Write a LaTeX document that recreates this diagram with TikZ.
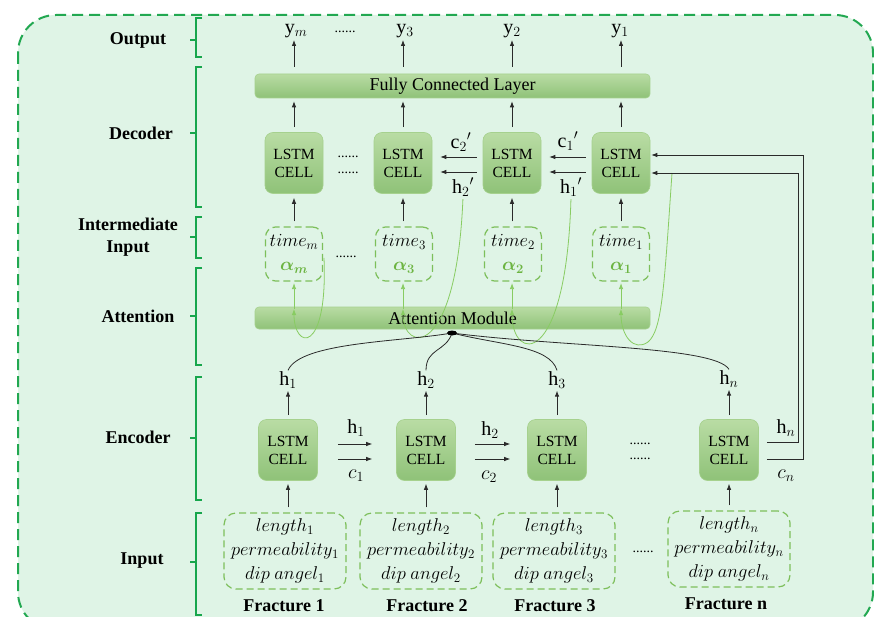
\RequirePackage{fix-cm}
\documentclass[tikz,border=0pt]{standalone}
\usepackage{fontspec}
\setmainfont{Liberation Serif}
\usetikzlibrary{arrows.meta}
\definecolor{bgc}{HTML}{DFF4E6}
\definecolor{bordc}{HTML}{22A851}
\definecolor{brkc}{HTML}{17A64C}
\definecolor{cellt}{HTML}{B9DCA4}
\definecolor{cellbot}{HTML}{8FC278}
\definecolor{cellb}{HTML}{A6D18E}
\definecolor{dboxc}{HTML}{7DBF5B}
\definecolor{alphac}{HTML}{6CB441}
\definecolor{gline}{HTML}{88CC62}
\definecolor{arrc}{HTML}{2A2A2A}
\begin{document}
\begin{tikzpicture}[x=1pt,y=-1pt,
 cell/.style={draw=cellb, line width=0.6pt, rounded corners=8pt, top color=cellt, bottom color=cellbot, minimum width=58pt, minimum height=61pt, inner sep=0pt, align=center, font=\fontsize{15.5}{18}\selectfont},
 bar/.style={draw=cellb, line width=0.6pt, rounded corners=4pt, top color=cellt, bottom color=cellbot, inner sep=0pt, font=\fontsize{18}{20}\selectfont},
 tbox/.style={draw=dboxc, line width=1.2pt, dash pattern=on 7pt off 4pt, rounded corners=10pt, minimum width=57pt, minimum height=54pt, inner sep=0pt, align=center, font=\fontsize{18.5}{22}\selectfont},
 ibox/.style={draw=dboxc, line width=1.2pt, dash pattern=on 7pt off 4pt, rounded corners=12pt, minimum width=122pt, minimum height=76pt, inner sep=0pt, align=center, font=\fontsize{18.5}{24}\selectfont},
 lab/.style={font=\fontsize{20}{22}\selectfont, inner sep=1pt},
 side/.style={font=\bfseries\fontsize{18}{22}\selectfont, align=center},
 arr/.style={draw=arrc, line width=0.8pt, -{Latex[length=6pt,width=4.5pt]}},
 garr/.style={draw=gline, line width=0.8pt, -{Latex[length=6pt,width=4.5pt]}},
 bcurve/.style={draw=arrc, line width=0.8pt},
 brk/.style={draw=brkc, line width=2pt},
 dots/.style={font=\fontsize{14}{14}\selectfont, inner sep=0pt}
]
\useasboundingbox (0,0) rectangle (874,617);
\clip (0,0) rectangle (874,617);
\fill[white] (0,0) rectangle (874,617);
\draw[bordc, line width=2pt, dash pattern=on 11pt off 6pt, fill=bgc, rounded corners=38pt] (18,15) rectangle (873,630);

% side brackets
\foreach \t/\b/\m in {18/57/40, 67/207/133, 217/258/237, 268/365/316, 377/500/438, 513/615/562}{
  \draw[brk] (202,\t) -- (196,\t) -- (196,\b) -- (202,\b);
  \draw[brk] (196,\m) -- (190,\m);
}
\node[side] (lout) at (138,40) {Output};
\node[side] (ldec) at (141,133) {Decoder};
\node[side] (lint) at (128,237) {Intermediate\\Input};
\node[side] (latt) at (138,316) {Attention};
\node[side] (lenc) at (138,437) {Encoder};
\node[side] (linp) at (142,561) {Input};

% output
\node[lab] (ym) at (296,31) {$\mathrm{y}_m$};
\node[lab] (y3) at (405,31) {$\mathrm{y}_3$};
\node[lab] (y2) at (512,31) {$\mathrm{y}_2$};
\node[lab] (y1) at (620,31) {$\mathrm{y}_1$};
\node[dots] (od) at (345,32) {......};

% fully connected
\node[bar, minimum width=395pt, minimum height=24pt] (fc) at (452.5,86) {Fully Connected Layer};

% decoder cells
\node[cell] (d1) at (294,163) {LSTM\\CELL};
\node[cell] (d2) at (403,163) {LSTM\\CELL};
\node[cell] (d3) at (512,163) {LSTM\\CELL};
\node[cell] (d4) at (621,163) {LSTM\\CELL};
\node[dots] (dd1) at (348,157) {......};
\node[dots] (dd2) at (348,173) {......};

\foreach \c/\y in {d1/ym, d2/y3, d3/y2, d4/y1}{
  \draw[arr, shorten <=7pt, shorten >=1pt] (\c |- fc.north) -- (\c |- \y.south);
  \draw[arr, shorten <=5pt, shorten >=3pt] (\c.north) -- (\c |- fc.south);
}

% decoder horizontal
\draw[arr] ([xshift=-6pt,yshift=6pt]d3.west) -- ([xshift=8pt,yshift=6pt]d2.east);
\draw[arr] ([xshift=-6pt,yshift=-9pt]d3.west) -- ([xshift=8pt,yshift=-9pt]d2.east);
\draw[arr] ([xshift=-6pt,yshift=6pt]d4.west) -- ([xshift=8pt,yshift=6pt]d3.east);
\draw[arr] ([xshift=-6pt,yshift=-9pt]d4.west) -- ([xshift=8pt,yshift=-9pt]d3.east);
\node[lab] (c2p) at (461,142) {$\mathrm{c}_2{}'$};
\node[lab] (h2p) at (463,187) {$\mathrm{h}_2{}'$};
\node[lab] (c1p) at (568,141) {$\mathrm{c}_1{}'$};
\node[lab] (h1p) at (571,187) {$\mathrm{h}_1{}'$};

% intermediate
\node[tbox] (t1) at (294,254) {$time_m$\\[2pt]{\color{alphac}\boldmath$\alpha_m$}};
\node[tbox] (t2) at (404,254) {$time_3$\\[2pt]{\color{alphac}\boldmath$\alpha_3$}};
\node[tbox] (t3) at (513,254) {$time_2$\\[2pt]{\color{alphac}\boldmath$\alpha_2$}};
\node[tbox] (t4) at (621,254) {$time_1$\\[2pt]{\color{alphac}\boldmath$\alpha_1$}};
\node[dots] (td) at (346,257) {......};
\foreach \t/\c in {t1/d1, t2/d2, t3/d3, t4/d4}{
  \draw[arr, shorten <=5pt, shorten >=4pt] (\c |- \t.north) -- (\c.south);
}

% attention
\node[bar, minimum width=395pt, minimum height=22pt] (att) at (452.5,318) {Attention Module};
\coordinate (g1) at (294,309);
\coordinate (g2) at (403,309);
\coordinate (g3) at (512,309);
\coordinate (g4) at (621,309);
\foreach \g/\t in {g1/t1, g2/t2, g3/t3, g4/t4}{
  \draw[garr, shorten >=1.5pt] (\g) -- (\g |- \t.south);
}
\coordinate (s1) at (324,258);
\coordinate (s4) at (672,173);
\draw[garr] (s1) .. controls (328,355) and (294,350) .. (g1);
\draw[garr, shorten <=2pt] (h2p.south) .. controls (456,362) and (403,352) .. (g2);
\draw[garr, shorten <=2pt] (h1p.south) .. controls (566,370) and (512,362) .. (g3);
\draw[draw=gline, line width=0.8pt] (s4) .. controls (664,290) and (662,330) .. (648,342);
\draw[garr] (648,342) .. controls (634,352) and (621,336) .. (g4);

% encoder
\node[cell, minimum width=59pt] (e1) at (288,450) {LSTM\\CELL};
\node[cell, minimum width=59pt] (e2) at (426,450) {LSTM\\CELL};
\node[cell, minimum width=59pt] (e3) at (557,450) {LSTM\\CELL};
\node[cell, minimum width=59pt] (en) at (729,450) {LSTM\\CELL};
\node[dots] (ed1) at (640,444) {......};
\node[dots] (ed2) at (640,459) {......};

\node[lab] (eh1) at (288,380) {$\mathrm{h}_1$};
\node[lab] (eh2) at (426,380) {$\mathrm{h}_2$};
\node[lab] (eh3) at (557,380) {$\mathrm{h}_3$};
\node[lab] (ehn) at (729,379) {$\mathrm{h}_n$};
\foreach \c/\h in {e1/eh1, e2/eh2, e3/eh3, en/ehn}{
  \draw[arr, shorten <=4pt, shorten >=1pt] (\c.north) -- (\h.south);
}

\draw[arr] ([xshift=20pt,yshift=6pt]e1.east) -- ([xshift=-24pt,yshift=6pt]e2.west);
\draw[arr] ([xshift=20pt,yshift=-9pt]e1.east) -- ([xshift=-24pt,yshift=-9pt]e2.west);
\draw[arr] ([xshift=19pt,yshift=6pt]e2.east) -- ([xshift=-17pt,yshift=6pt]e3.west);
\draw[arr] ([xshift=19pt,yshift=-9pt]e2.east) -- ([xshift=-17pt,yshift=-9pt]e3.west);
\node[lab] (lh1) at (356,428) {$\mathrm{h}_1$};
\node[lab] (lc1) at (356,476) {$c_1$};
\node[lab] (lh2) at (490,430) {$\mathrm{h}_2$};
\node[lab] (lc2) at (489,477) {$c_2$};

% right loop
\draw[arr] ([xshift=8pt,yshift=7.5pt]en.east) -- ++(32,0) |- ([xshift=1pt,yshift=-10pt]d4.east);
\draw[arr] ([xshift=8pt,yshift=-9.5pt]en.east) -- ++(37,0) |- ([xshift=1pt,yshift=8pt]d4.east);
\node[lab] (lhn) at (786,428) {$\mathrm{h}_n$};
\node[lab] (lcn) at (786,476) {$c_n$};

% black curves to attention
\coordinate (dot) at (452,333);
\draw[bcurve] (eh1.north) .. controls (300,342) and (400,342) .. (dot);
\draw[bcurve] (eh2.north) .. controls (426,348) and (446,352) .. (dot);
\draw[bcurve] (eh3.north) .. controls (550,346) and (500,345) .. (dot);
\draw[bcurve] (ehn.north) .. controls (715,346) and (560,347) .. (dot);
\fill[black] (dot) ellipse (5pt and 2.5pt);

% inputs
\node[ibox] (i1) at (285,551) {$length_1$\\$permeability_1$\\$dip\ angel_1$};
\node[ibox] (i2) at (421,551) {$length_2$\\$permeability_2$\\$dip\ angel_2$};
\node[ibox] (i3) at (554,551) {$length_3$\\$permeability_3$\\$dip\ angel_3$};
\node[ibox] (in) at (729,549) {$length_n$\\$permeability_n$\\$dip\ angel_n$};
\node[dots] (id) at (643,552) {......};
\foreach \c/\i in {e1/i1, e2/i2, e3/i3, en/in}{
  \draw[arr, shorten <=5pt, shorten >=3pt] (\c |- \i.north) -- (\c.south);
}
\node[side] (f1) at (284,606) {Fracture 1};
\node[side] (f2) at (427,606) {Fracture 2};
\node[side] (f3) at (555,606) {Fracture 3};
\node[side] (fn) at (726,604) {Fracture n};
\end{tikzpicture}
\end{document}
